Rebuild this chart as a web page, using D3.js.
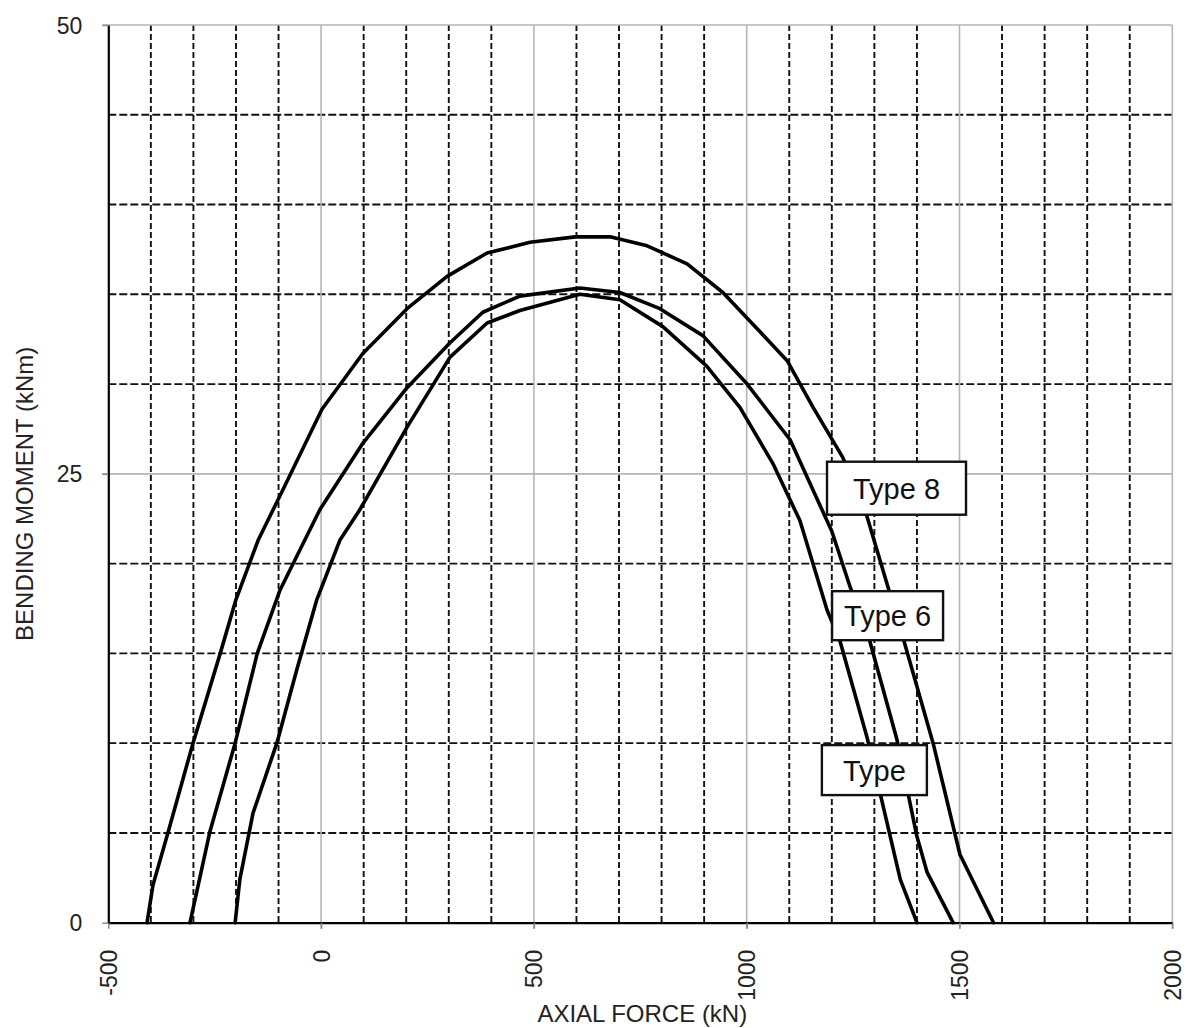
<!DOCTYPE html>
<html>
<head>
<meta charset="utf-8">
<script src="https://cdn.jsdelivr.net/npm/d3@7"></script>
<style>
  body { margin: 0; background: #fff; }
  svg { display: block; font-family: "Liberation Sans", Arial, sans-serif; }
</style>
</head>
<body>
<svg id="chart" width="1186" height="1028"></svg>
<script>
// ---------------- DATA ----------------
const xTickValues = [-500, 0, 500, 1000, 1500, 2000];
const yTickValues = [0, 25, 50];
const xTitle = "AXIAL FORCE (kN)";
const yTitle = "BENDING MOMENT (kNm)";
const seriesNames = ["Type 8", "Type 6", "Type"];

// [axial force kN, bending moment kNm]
const type8 = [
  [-409, 0], [-395, 2.1], [-360, 5.0], [-301, 10.0], [-237, 15.0], [-200, 18.0],
  [-148, 21.3], [-90, 24.1], [2, 28.6], [98, 31.7], [202, 34.2], [296, 36.0],
  [390, 37.3], [491, 37.9], [597, 38.2], [679, 38.2], [766, 37.7], [860, 36.7],
  [944, 35.1], [1024, 33.1], [1095, 31.3], [1156, 28.7], [1226, 25.9], [1283, 22.6],
  [1367, 15.9], [1438, 10.0], [1501, 3.8], [1580, 0]
];
const type6 = [
  [-308, 0], [-261, 5.1], [-202, 10.0], [-150, 15.0], [-97, 18.5], [-3, 23.0],
  [98, 26.7], [202, 29.8], [303, 32.3], [380, 34.0], [467, 34.9], [608, 35.35],
  [702, 35.1], [796, 34.2], [897, 32.7], [1001, 30.0], [1102, 26.9], [1200, 21.8],
  [1243, 18.7], [1289, 15.7], [1353, 10.2], [1400, 4.8], [1424, 2.8], [1485, 0]
];
const typeX = [
  [-202, 0], [-191, 2.4], [-160, 6.1], [-104, 10.0], [-57, 14.1], [-10, 18.0],
  [44, 21.3], [91, 23.0], [202, 27.6], [303, 31.5], [390, 33.4], [467, 34.1],
  [608, 35.0], [702, 34.7], [803, 33.2], [906, 31.0], [984, 28.7], [1061, 25.6],
  [1125, 22.4], [1189, 17.4], [1219, 15.7], [1283, 10.3], [1361, 2.4], [1400, 0]
];
const seriesData = [type8, type6, typeX];

// ---------------- LAYOUT ----------------
const plot = { left: 108.3, right: 1172.3, top: 25, bottom: 922.7 };
// label box centres (data units) and box sizes (px)
const labelCentres = [[1352, 24.2], [1331, 17.1], [1300, 8.5]];
const labelBoxes = [[139, 53], [111, 49], [105, 50]];

const svg = d3.select("#chart");
const x = d3.scaleLinear().domain([-500, 2000]).range([plot.left, plot.right]);
const y = d3.scaleLinear().domain([0, 50]).range([plot.bottom, plot.top]);
const fmt = d => String(d);

const gGrid = svg.append("g");

// minor dashed gridlines
const xMinor = d3.range(-400, 2000, 100).filter(v => v % 500 !== 0);
const yMinor = d3.range(5, 50, 5).filter(v => v % 25 !== 0);

gGrid.selectAll("line.xminor").data(xMinor).join("line")
  .attr("class", "xminor")
  .attr("x1", d => x(d)).attr("x2", d => x(d))
  .attr("y1", y(50)).attr("y2", y(0))
  .attr("stroke", "#111").attr("stroke-width", 1.9)
  .attr("stroke-dasharray", "6,3");

gGrid.selectAll("line.yminor").data(yMinor).join("line")
  .attr("class", "yminor")
  .attr("y1", d => y(d)).attr("y2", d => y(d))
  .attr("x1", x(-500)).attr("x2", x(2000))
  .attr("stroke", "#111").attr("stroke-width", 1.9)
  .attr("stroke-dasharray", "8,3");

// major solid gray gridlines
gGrid.selectAll("line.xmajor").data(xTickValues.filter(v => v !== -500)).join("line")
  .attr("class", "xmajor")
  .attr("x1", d => x(d)).attr("x2", d => x(d))
  .attr("y1", y(50)).attr("y2", y(0) + 6)
  .attr("stroke", "#b5b5b5").attr("stroke-width", 1.6);

gGrid.selectAll("line.ymajor").data(yTickValues.filter(v => v !== 0)).join("line")
  .attr("class", "ymajor")
  .attr("y1", d => y(d)).attr("y2", d => y(d))
  .attr("x1", x(-500) - 6).attr("x2", x(2000))
  .attr("stroke", "#b5b5b5").attr("stroke-width", 1.6);

// axes (D3 axes for ticks and labels)
const xAxis = d3.axisBottom(x).tickValues(xTickValues).tickSize(6).tickSizeOuter(0).tickFormat(fmt);
const gx = svg.append("g").attr("transform", `translate(0,${y(0)})`).call(xAxis);
gx.select(".domain").attr("stroke", "#000").attr("stroke-width", 2.2);
gx.selectAll(".tick line").attr("stroke", "#888").attr("stroke-width", 1.5);
gx.selectAll(".tick text")
  .attr("font-size", 23).attr("fill", "#222")
  .attr("transform", "translate(0,27) rotate(-90)")
  .attr("text-anchor", "end").attr("x", 0).attr("y", 0).attr("dy", "0.35em");

const yAxis = d3.axisLeft(y).tickValues(yTickValues).tickSize(6).tickSizeOuter(0).tickFormat(fmt);
const gy = svg.append("g").attr("transform", `translate(${x(-500)},0)`).call(yAxis);
gy.select(".domain").attr("stroke", "#000").attr("stroke-width", 2.2);
gy.selectAll(".tick line").attr("stroke", "#888").attr("stroke-width", 1.5);
gy.selectAll(".tick text")
  .attr("font-size", 23).attr("fill", "#222")
  .attr("x", -26).attr("dy", "0.35em");

// axis titles
svg.append("text")
  .attr("x", (plot.left + plot.right) / 2 + 2).attr("y", 1022)
  .attr("text-anchor", "middle").attr("font-size", 24).attr("fill", "#222")
  .text(xTitle);
svg.append("text")
  .attr("transform", `translate(33,${(plot.top + plot.bottom) / 2 + 20}) rotate(-90)`)
  .attr("text-anchor", "middle").attr("font-size", 24).attr("fill", "#222")
  .text(yTitle);

// curves
const line = d3.line().x(d => x(d[0])).y(d => y(d[1]));
svg.append("g").selectAll("path").data(seriesData).join("path")
  .attr("d", line)
  .attr("fill", "none").attr("stroke", "#000").attr("stroke-width", 3.6)
  .attr("stroke-linejoin", "round").attr("stroke-linecap", "round");

// label boxes
const gLab = svg.append("g").selectAll("g").data(seriesNames).join("g")
  .attr("transform", (d, i) => `translate(${x(labelCentres[i][0])},${y(labelCentres[i][1])})`);
gLab.append("rect")
  .attr("x", (d, i) => -labelBoxes[i][0] / 2).attr("y", (d, i) => -labelBoxes[i][1] / 2)
  .attr("width", (d, i) => labelBoxes[i][0]).attr("height", (d, i) => labelBoxes[i][1])
  .attr("fill", "#fff").attr("stroke", "#111").attr("stroke-width", 2.4);
gLab.append("text")
  .attr("text-anchor", "middle").attr("dy", "0.36em")
  .attr("font-size", 29).attr("fill", "#111")
  .text(d => d);
</script>
</body>
</html>
